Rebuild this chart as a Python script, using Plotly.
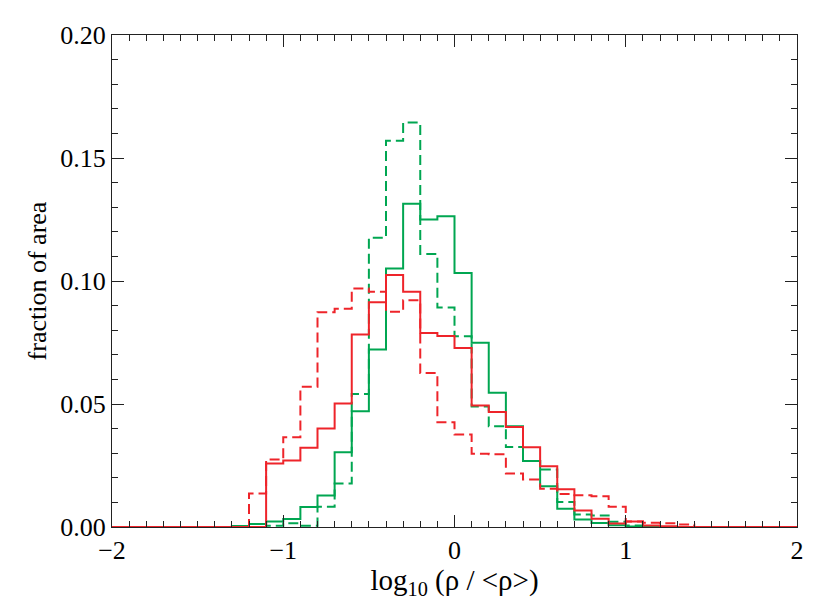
import plotly.graph_objects as go

## Data
# histogram bin edges, log10(rho/<rho>) from -2 to 2 in steps of 0.1
BIN_EDGES = [round(-2.0 + 0.1 * i, 1) for i in range(41)]

# fraction of area per bin (40 bins)
GREEN_SOLID = [0, 0, 0, 0, 0, 0, 0,
               0.0004, 0.0012, 0.0022, 0.0033, 0.0081, 0.0128, 0.0304, 0.0471,
               0.0722, 0.1051, 0.1314, 0.1250, 0.1263, 0.1033, 0.0749, 0.0546,
               0.0410, 0.0268, 0.0166, 0.0074, 0.0030, 0.0016, 0.0007, 0.0002,
               0, 0, 0, 0, 0, 0, 0, 0, 0]
GREEN_DASH = [0, 0, 0, 0, 0, 0, 0, 0, 0,
              0.0005, 0.0015, 0.0005, 0.0082, 0.0177, 0.0541, 0.1176, 0.1570,
              0.1644, 0.1110, 0.0892, 0.0775, 0.0490, 0.0410, 0.0325, 0.0268,
              0.0234, 0.0102, 0.0051, 0.0047, 0.0021, 0.0006, 0.0003,
              0, 0, 0, 0, 0, 0, 0, 0]
RED_SOLID = [0, 0, 0, 0, 0, 0, 0, 0, 0,
             0.0258, 0.0270, 0.0322, 0.0400, 0.0502, 0.0783, 0.0914, 0.1024,
             0.0956, 0.0789, 0.0776, 0.0728, 0.0494, 0.0467, 0.0407, 0.0324,
             0.0247, 0.0153, 0.0067, 0.0034, 0.0014, 0.0022, 0.0006, 0.0003,
             0, 0, 0, 0, 0, 0, 0]
RED_DASH = [0, 0, 0, 0, 0, 0, 0, 0,
            0.0136, 0.0274, 0.0365, 0.0570, 0.0873, 0.0887, 0.0970, 0.0956,
            0.0875, 0.0922, 0.0626, 0.0426, 0.0376, 0.0298, 0.0296, 0.0217,
            0.0193, 0.0155, 0.0134, 0.0129, 0.0125, 0.0082, 0.0022, 0.0017,
            0.0015, 0.0010, 0, 0, 0, 0, 0, 0]

X_TICKS = [-2, -1, 0, 1, 2]
X_TICKTEXT = ['\u22122', '\u22121', '0', '1', '2']
Y_TICKS = [0.0, 0.05, 0.10, 0.15, 0.20]

GREEN = 'rgb(0, 166, 81)'
RED = 'rgb(238, 36, 42)'
FONT = 'Liberation Serif'


def steps(values):
    # repeat the last value so the 'hv' step closes the final bin
    return list(values) + [values[-1]]


fig = go.Figure()
series = [
    (GREEN_SOLID, GREEN, 'solid'),
    (GREEN_DASH, GREEN, '10px,5px'),
    (RED_DASH, RED, '10px,5px'),
    (RED_SOLID, RED, 'solid'),
]
for vals, col, dash in series:
    fig.add_trace(go.Scatter(
        x=BIN_EDGES, y=steps(vals), mode='lines',
        line=dict(color=col, width=2, dash=dash, shape='hv'),
        showlegend=False, hoverinfo='skip'))

axis_common = dict(
    showline=True, linecolor='#222', linewidth=1, mirror='allticks',
    ticks='inside', tickcolor='#222', tickwidth=1, ticklen=12,
    showgrid=False, zeroline=False,
    tickfont=dict(family=FONT, size=26, color='black'),
)

fig.update_xaxes(
    range=[-2, 2], tickvals=X_TICKS, ticktext=X_TICKTEXT,
    minor=dict(dtick=0.1, ticks='inside', ticklen=6, tickcolor='#222', showgrid=False),
    title=dict(text='log<sub>10</sub> (\u03c1 / &lt;\u03c1&gt;)',
               font=dict(family=FONT, size=29, color='black'), standoff=0),
    **axis_common)
fig.update_yaxes(
    range=[0, 0.2], tickvals=Y_TICKS, tickformat='.2f',
    minor=dict(dtick=0.01, ticks='inside', ticklen=6, tickcolor='#222', showgrid=False),
    title=dict(text='fraction of area',
               font=dict(family=FONT, size=26, color='black'), standoff=6),
    **axis_common)

# the page body adds an 8px offset, so the figure is trimmed by that much
fig.update_layout(
    width=822, height=592,
    margin=dict(l=104, r=33, t=27, b=73),
    plot_bgcolor='white', paper_bgcolor='white',
    font=dict(family=FONT, color='black'),
)

fig.write_html("out.html")
